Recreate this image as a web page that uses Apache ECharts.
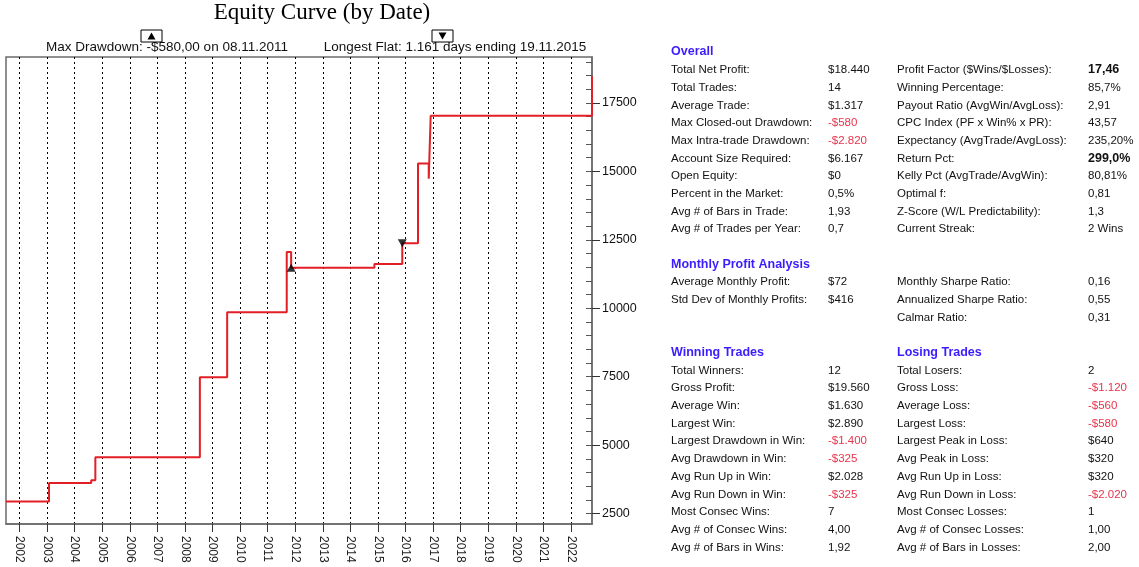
<!DOCTYPE html>
<html>
<head>
<meta charset="utf-8">
<script src="https://cdn.jsdelivr.net/npm/echarts@6.0.0/dist/echarts.min.js"></script>
<style>
html, body { margin: 0; padding: 0; background: #fff; }
#main { width: 1139px; height: 567px; }
</style>
</head>
<body>
<div id="main"></div>
<script>
// equity curve, one point per change of closed equity
var tradeDates = [2001.51, 2003.07, 2004.60, 2004.75, 2008.54, 2009.53, 2011.69, 2011.85, 2014.87, 2015.88, 2016.45, 2016.84, 2016.91, 2022.76];
var equity     = [2940, 3620, 3715, 4555, 7480, 9860, 12060, 11480, 11615, 12380, 15290, 14730, 17030, 18480];

var maxDrawdownMark = [[2011.85, 11480]];
var longestFlatMark = [[2015.88, 12380]];

var yearTicks = [2002, 2003, 2004, 2005, 2006, 2007, 2008, 2009, 2010, 2011, 2012, 2013, 2014, 2015, 2016, 2017, 2018, 2019, 2020, 2021, 2022];
var equityTicks = [2500, 5000, 7500, 10000, 12500, 15000, 17500];
var equityMinorTicks = [2500, 3000, 3500, 4000, 4500, 5000, 5500, 6000, 6500, 7000, 7500, 8000, 8500, 9000, 9500, 10000,
    10500, 11000, 11500, 12000, 12500, 13000, 13500, 14000, 14500, 15000, 15500, 16000, 16500, 17000, 17500, 18000, 18500, 19000];

var overallLeft = [
    ['Total Net Profit:', '$18.440'],
    ['Total Trades:', '14'],
    ['Average Trade:', '$1.317'],
    ['Max Closed-out Drawdown:', '-$580'],
    ['Max Intra-trade Drawdown:', '-$2.820'],
    ['Account Size Required:', '$6.167'],
    ['Open Equity:', '$0'],
    ['Percent in the Market:', '0,5%'],
    ['Avg # of Bars in Trade:', '1,93'],
    ['Avg # of Trades per Year:', '0,7']
];
var overallRight = [
    ['Profit Factor ($Wins/$Losses):', '17,46'],
    ['Winning Percentage:', '85,7%'],
    ['Payout Ratio (AvgWin/AvgLoss):', '2,91'],
    ['CPC Index (PF x Win% x PR):', '43,57'],
    ['Expectancy (AvgTrade/AvgLoss):', '235,20%'],
    ['Return Pct:', '299,0%'],
    ['Kelly Pct (AvgTrade/AvgWin):', '80,81%'],
    ['Optimal f:', '0,81'],
    ['Z-Score (W/L Predictability):', '1,3'],
    ['Current Streak:', '2 Wins']
];
var monthlyLeft = [
    ['Average Monthly Profit:', '$72'],
    ['Std Dev of Monthly Profits:', '$416']
];
var monthlyRight = [
    ['Monthly Sharpe Ratio:', '0,16'],
    ['Annualized Sharpe Ratio:', '0,55'],
    ['Calmar Ratio:', '0,31']
];
var winningTrades = [
    ['Total Winners:', '12'],
    ['Gross Profit:', '$19.560'],
    ['Average Win:', '$1.630'],
    ['Largest Win:', '$2.890'],
    ['Largest Drawdown in Win:', '-$1.400'],
    ['Avg Drawdown in Win:', '-$325'],
    ['Avg Run Up in Win:', '$2.028'],
    ['Avg Run Down in Win:', '-$325'],
    ['Most Consec Wins:', '7'],
    ['Avg # of Consec Wins:', '4,00'],
    ['Avg # of Bars in Wins:', '1,92']
];
var losingTrades = [
    ['Total Losers:', '2'],
    ['Gross Loss:', '-$1.120'],
    ['Average Loss:', '-$560'],
    ['Largest Loss:', '-$580'],
    ['Largest Peak in Loss:', '$640'],
    ['Avg Peak in Loss:', '$320'],
    ['Avg Run Up in Loss:', '$320'],
    ['Avg Run Down in Loss:', '-$2.020'],
    ['Most Consec Losses:', '1'],
    ['Avg # of Consec Losses:', '1,00'],
    ['Avg # of Bars in Losses:', '2,00']
];
var boldValues = ['17,46', '299,0%'];

var FONT = '"Liberation Sans", Arial, sans-serif';
var ROW = 17.7;

function textEl(x, y, str, opt) {
    opt = opt || {};
    return {
        type: 'text', x: x, y: y, silent: true,
        style: {
            text: str,
            fill: opt.fill || '#111',
            font: (opt.weight || 'normal') + ' ' + (opt.size || 11.5) + 'px ' + (opt.family || FONT),
            textAlign: opt.align || 'left',
            textVerticalAlign: 'middle'
        }
    };
}

function tableBlock(rows, labelX, valueX, y0) {
    var els = [];
    rows.forEach(function (r, i) {
        var y = y0 + i * ROW;
        els.push(textEl(labelX, y, r[0]));
        var bold = boldValues.indexOf(r[1]) >= 0;
        els.push(textEl(valueX, y, r[1], {
            fill: r[1].charAt(0) === '-' ? '#e8344c' : '#111',
            weight: bold ? 'bold' : 'normal',
            size: bold ? 12.5 : 11.5
        }));
    });
    return els;
}

function header(x, y, str) {
    return textEl(x, y, str, { fill: '#3a1cff', weight: 'bold', size: 12.5 });
}

function markerBox(x, y, up) {
    var pts = up ? [[x + 6.5, y + 9.5], [x + 14.5, y + 9.5], [x + 10.5, y + 2.5]]
                 : [[x + 6.5, y + 2.5], [x + 14.5, y + 2.5], [x + 10.5, y + 9.5]];
    return [
        { type: 'rect', silent: true, shape: { x: x, y: y, width: 21, height: 12 },
          style: { fill: '#fff', stroke: '#000', lineWidth: 1 } },
        { type: 'polygon', silent: true, shape: { points: pts }, style: { fill: '#000' } }
    ];
}

var LX = 671, LV = 828, RX = 897, RV = 1088;
var graphics = [
    textEl(322, 13, 'Equity Curve (by Date)', { size: 23, family: '"Liberation Serif", "Times New Roman", serif', fill: '#000', align: 'center' }),
    textEl(167, 47.5, 'Max Drawdown: -$580,00 on 08.11.2011', { size: 13.5, align: 'center' }),
    textEl(455, 47.5, 'Longest Flat: 1.161 days ending 19.11.2015', { size: 13.5, align: 'center' }),
    header(LX, 51.5, 'Overall'),
    header(LX, 264.5, 'Monthly Profit Analysis'),
    header(LX, 352.5, 'Winning Trades'),
    header(RX, 352.5, 'Losing Trades')
]
    .concat(markerBox(141, 30, true))
    .concat(markerBox(432, 30, false))
    .concat(tableBlock(overallLeft, LX, LV, 70))
    .concat(tableBlock(overallRight, RX, RV, 70))
    .concat(tableBlock(monthlyLeft, LX, LV, 282.3))
    .concat(tableBlock(monthlyRight, RX, RV, 282.3))
    .concat(tableBlock(winningTrades, LX, LV, 370.5))
    .concat(tableBlock(losingTrades, RX, RV, 370.5));

var myChart = echarts.init(document.getElementById('main'));

var option = {
    animation: false,
    backgroundColor: '#fff',
    grid: {
        left: 6, right: 547, top: 57, bottom: 43,
        show: true, borderColor: '#6b6b6b', borderWidth: 1.5
    },
    xAxis: {
        type: 'value',
        min: 2001.51,
        max: 2022.76,
        axisLine: { show: true, lineStyle: { color: '#6b6b6b', width: 1.5 } },
        axisTick: { show: true, customValues: yearTicks, length: 8, lineStyle: { color: '#333' } },
        axisLabel: {
            customValues: yearTicks, rotate: -90, margin: 12,
            color: '#222', fontSize: 12, fontFamily: FONT,
            formatter: function (v) { return String(v); }
        },
        splitLine: { show: true, lineStyle: { color: '#000', type: [2, 3], width: 1 } }
    },
    yAxis: [{
        type: 'value',
        position: 'right',
        min: 2120,
        max: 19180,
        axisLine: { show: true, lineStyle: { color: '#6b6b6b', width: 1.5 } },
        axisTick: { show: true, customValues: equityTicks, length: 8, lineStyle: { color: '#333' } },
        axisLabel: {
            customValues: equityTicks, margin: 10, color: '#111', fontSize: 12.5, fontFamily: FONT,
            formatter: function (v) { return String(v); }
        },
        splitLine: { show: false }
    }, {
        type: 'value',
        position: 'right',
        min: 2120,
        max: 19180,
        axisLine: { show: false },
        axisTick: { show: true, inside: true, customValues: equityMinorTicks, length: 6, lineStyle: { color: '#555' } },
        axisLabel: { show: false },
        splitLine: { show: false }
    }],
    series: [{
        type: 'line',
        step: 'end',
        data: tradeDates.map(function (d, i) { return [d, equity[i]]; }),
        showSymbol: false,
        lineStyle: { color: '#e31f26', width: 2 },
        z: 3
    }, {
        type: 'scatter',
        data: maxDrawdownMark,
        symbol: 'triangle',
        symbolSize: [9, 8],
        itemStyle: { color: '#000' },
        z: 4
    }, {
        type: 'scatter',
        data: longestFlatMark,
        symbol: 'triangle',
        symbolRotate: 180,
        symbolSize: [9, 8],
        itemStyle: { color: '#000' },
        z: 4
    }],
    graphic: graphics
};

myChart.setOption(option);
</script>
</body>
</html>
